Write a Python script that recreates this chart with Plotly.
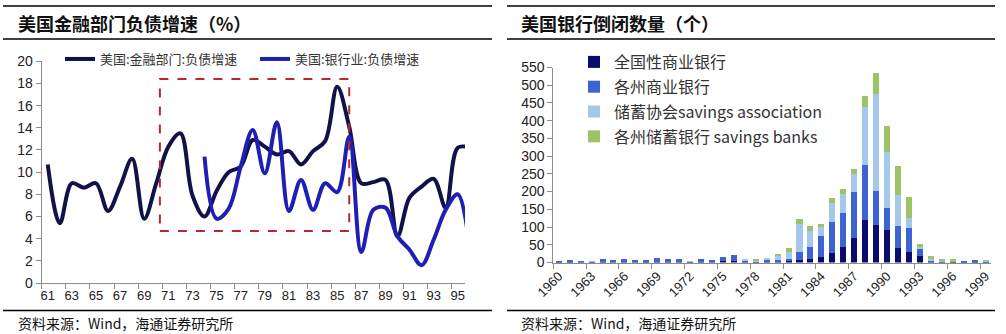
import plotly.graph_objects as go

W, H = 1006, 334

# --- Left panel: liability growth of the US financial sector (%) ---
years_left = list(range(61, 97))
fin_sector = [10.7, 5.4, 9.0, 8.6, 9.0, 6.5, 8.7, 11.2, 5.8, 9.0,
              12.3, 13.5, 7.9, 6.0, 8.3, 10.0, 10.5, 12.9, 12.3, 11.6,
              11.9, 10.7, 11.9, 12.8, 17.7, 14.1, 9.0, 9.1, 9.3, 4.2,
              7.7, 8.7, 9.4, 6.8, 12.2, 12.2]
bank_years = list(range(74, 97))
bank_sector = [11.4, 5.8, 6.7, 10.5, 13.8, 9.9, 14.5, 6.5, 9.3, 6.6,
               9.0, 8.2, 13.2, 2.8, 6.6, 6.8, 4.2, 3.0, 1.6, 3.9,
               6.6, 8.0, 3.0]
left_ticks = list(range(61, 96, 2))

# --- Right panel: number of US bank failures ---
years_right = list(range(1960, 2000))
national = [1, 2, 3, 1, 2, 1, 2, 1, 1, 2, 2, 2, 1, 2, 1, 3, 3, 1, 1, 1,
            2, 3, 7, 9, 16, 27, 44, 70, 119, 107, 93, 41, 30, 19, 4, 2, 1, 1, 2, 2]
state = [4, 5, 2, 3, 8, 6, 8, 6, 5, 11, 9, 9, 3, 8, 6, 13, 18, 7, 3, 9,
         6, 8, 22, 34, 59, 86, 96, 128, 155, 94, 61, 62, 67, 19, 3, 2, 2, 3, 5, 2]
savings_assoc = [0, 0, 0, 1, 0, 0, 0, 0, 0, 0, 0, 0, 1, 0, 0, 0, 0, 2, 2, 2,
                 12, 20, 79, 46, 25, 55, 53, 51, 166, 273, 157, 86, 28, 7, 4, 4, 2, 0, 0, 2]
savings_banks = [0, 0, 0, 0, 0, 0, 0, 0, 0, 0, 0, 0, 0, 0, 0, 0, 0, 0, 4, 0,
                 3, 11, 14, 14, 8, 13, 14, 16, 31, 61, 73, 83, 60, 8, 6, 1, 4, 0, 0, 2]
right_ticks = list(range(1960, 2000, 3))

CJK = "Noto Sans CJK SC"
LAT = "Liberation Sans"


def fx(px):
    return px / W


def fy(py):
    return 1 - py / H


fig = go.Figure()

fig.add_trace(go.Scatter(
    x=years_left, y=fin_sector, mode="lines", name="美国:金融部门:负债增速",
    line=dict(color="#12124a", width=4, shape="spline", smoothing=1.0),
    xaxis="x", yaxis="y", legend="legend"))
fig.add_trace(go.Scatter(
    x=bank_years, y=bank_sector, mode="lines", name="美国:银行业:负债增速",
    line=dict(color="#1f1fb4", width=4, shape="spline", smoothing=1.0),
    xaxis="x", yaxis="y", legend="legend"))

bar_series = [
    ("全国性商业银行", national, "#0b0b6e"),
    ("各州商业银行", state, "#3e63d3"),
    ("储蓄协会savings association", savings_assoc, "#a4c8ec"),
    ("各州储蓄银行 savings banks", savings_banks, "#9cc466"),
]
for name, vals, col in bar_series:
    fig.add_trace(go.Bar(
        x=years_right, y=vals, name=name, marker=dict(color=col, line=dict(width=0)),
        xaxis="x2", yaxis="y2", legend="legend2", legendgroup=name))

line_axis = dict(showgrid=False, zeroline=False, showline=True, linecolor="#8c8c8c",
                 linewidth=1, tickcolor="#8c8c8c")
y_axis_style = dict(ticks="outside", ticklen=5,
                    tickfont=dict(family=LAT, size=14, color="#222"), **line_axis)
x_tickfont = dict(family=LAT, size=13, color="#222")

fig.update_layout(
    width=W, height=H, margin=dict(l=0, r=0, t=0, b=0, autoexpand=False),
    paper_bgcolor="white", plot_bgcolor="white",
    barmode="stack", bargap=0.45,
    xaxis=dict(domain=[fx(41.7), fx(465)], range=[60.5, 95.6], anchor="y",
               tickmode="array", tickvals=left_ticks,
               ticktext=[str(v) for v in left_ticks], ticks="", tickfont=x_tickfont,
               minor=dict(tickmode="array", tickvals=[v - 0.5 for v in left_ticks],
                          ticks="outside", ticklen=5, tickcolor="#8c8c8c"),
               **line_axis),
    yaxis=dict(domain=[fy(283), fy(61.3)], range=[0, 20], dtick=2,
               anchor="x", **y_axis_style),
    xaxis2=dict(domain=[fx(553.3), fx(991)], range=[1959.5, 1999.5], anchor="y2",
                tickmode="array", tickvals=right_ticks,
                ticktext=[str(v) for v in right_ticks], ticks="", tickangle=-45,
                tickfont=x_tickfont,
                minor=dict(tickmode="array", tickvals=[v - 0.5 for v in right_ticks],
                           ticks="outside", ticklen=5, tickcolor="#8c8c8c"),
                **line_axis),
    yaxis2=dict(domain=[fy(262.5), fy(67.5)], range=[0, 550], dtick=50,
                anchor="x2", **y_axis_style),
    legend=dict(orientation="h", x=fx(60), y=fy(44), xanchor="left", yanchor="top",
                bgcolor="rgba(0,0,0,0)", font=dict(family=CJK, size=13, color="#333"),
                itemwidth=30, entrywidth=150, entrywidthmode="pixels"),
    legend2=dict(orientation="v", x=fx(574), y=fy(45), xanchor="left", yanchor="top",
                 bgcolor="rgba(0,0,0,0)", font=dict(family=CJK, size=16, color="#333"),
                 traceorder="grouped", tracegroupgap=1, itemwidth=30),
    showlegend=True,
)

# Highlight box around 1970-1986
fig.add_shape(type="rect", xref="x", yref="y", x0=70.3, x1=86.0, y0=4.7, y1=18.4,
              line=dict(color="#b8282e", width=2, dash="dash"), fillcolor="rgba(0,0,0,0)")

# Header and footer rules for both panels
for x0, x1 in [(3, 492), (507, 995)]:
    for y in (6, 39, 310.5):
        fig.add_shape(type="line", xref="paper", yref="paper",
                      x0=fx(x0), x1=fx(x1), y0=fy(y), y1=fy(y),
                      line=dict(color="black", width=1.5))

texts = [
    ("美国金融部门负债增速（%）", 16, 23, 18, True),
    ("美国银行倒闭数量（个）", 519, 23, 18, True),
    ("资料来源：Wind，海通证券研究所", 16, 323, 14, False),
    ("资料来源：Wind，海通证券研究所", 519, 323, 14, False),
]
for txt, x, y, size, bold in texts:
    fig.add_annotation(text=f"<b>{txt}</b>" if bold else txt, xref="paper", yref="paper",
                       x=fx(x), y=fy(y), xanchor="left", yanchor="middle", showarrow=False,
                       font=dict(family=CJK, size=size, color="#111"))

fig.write_html("out.html")
